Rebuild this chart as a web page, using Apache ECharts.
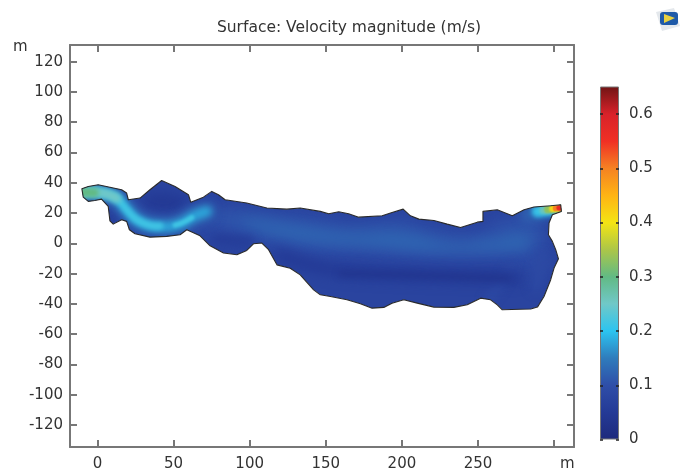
<!DOCTYPE html>
<html>
<head>
<meta charset="utf-8">
<style>html,body{margin:0;padding:0;background:#fff}#chart-container{width:681px;height:473px}</style>
<script src="https://cdn.jsdelivr.net/npm/echarts@6/dist/echarts.min.js"></script>
</head>
<body>
<div id="chart-container"></div>
<script>
// axis ticks
const xTicks = [0, 50, 100, 150, 200, 250, 300];
const xTickLabels = [0, 50, 100, 150, 200, 250];
const yTicks = [-120, -100, -80, -60, -40, -20, 0, 20, 40, 60, 80, 100, 120];
const scaleTicks = [0, 0.1, 0.2, 0.3, 0.4, 0.5, 0.6];

// colour scale
const scaleValues = [0, 0.05, 0.1, 0.15, 0.2, 0.25, 0.3, 0.35, 0.4, 0.45, 0.5, 0.55, 0.6, 0.651];
const scaleColors = ['#1e2a7c', '#243a96', '#2f4ea8', '#2f7cbc', '#2cc4f0', '#70c8c8', '#62ba84', '#acc648', '#f4e414', '#ffb414', '#f58222', '#f03024', '#d8222a', '#701414'];

// domain outline, metres
const outline = [[-10.2,36],[-6,37.6],[0.5,38.7],[8.2,37.1],[15.9,35.4],[19.2,33.2],[20.3,28.8],[28,29.9],[34.5,35.4],[42.2,41.5],[51,37.6],[59.8,32.1],[61.3,27.2],[69.6,30.5],[75.1,34.3],[79.5,32.1],[83.9,28.8],[98.1,26.6],[111.3,23.3],[124.4,22.6],[133.2,23.3],[146.4,21.1],[151.9,19.5],[158.5,20.9],[165,19.5],[171.6,17.3],[187,18.2],[193.5,20.4],[200.8,22.6],[205.6,18.2],[211.1,16],[221,15.1],[229.7,12.7],[238.5,10.5],[249.5,14],[253.2,14.5],[253.2,21.1],[262.6,22.2],[272.5,18.2],[280.2,22.2],[286.7,24],[297.7,24.8],[304.3,25.5],[304.7,21.1],[298.8,18.9],[296.6,13.4],[296.2,5.7],[298.8,1.3],[301,-4.2],[302.8,-10.2],[299.9,-16.3],[297.7,-24],[293.3,-35.1],[289,-42.1],[284.6,-43.4],[265.9,-43.9],[262.6,-40.6],[258.2,-37.3],[251.7,-36.2],[242.9,-40.6],[234.1,-42.3],[221,-42.1],[210,-39.5],[201.2,-37.3],[193.5,-39.5],[188.1,-42.3],[180.4,-42.8],[172.7,-39.9],[163.9,-37.3],[153,-35.1],[146.4,-34],[142,-30.7],[133.2,-20.8],[126.6,-16.4],[117.9,-14.2],[112.4,-4.2],[108,0.2],[102.5,-0.3],[98.1,-4.7],[91.6,-7.5],[82.8,-6.4],[74,-1.6],[67.4,5],[58.7,9],[54.3,5.7],[45.5,4.6],[34.5,4.1],[24.7,6.3],[21,9],[19.2,14.5],[15.9,15.6],[10.4,12.7],[8.2,14.9],[7.1,24.4],[2.7,29.2],[-1.7,28.3],[-6,27.7],[-9.3,30.5]];

// velocity regions, metres
const flowOuter = [[58,20],[85,24],[112,20],[146,17],[170,14],[200,17],[212,12],[238,8],[255,10],[262,18],[280,19],[293,20],[293,5],[296,-5],[297,-12],[290,-20],[270,-14],[250,-12],[220,-11],[180,-9],[140,-6],[110,-2],[100,0],[80,4],[60,10]];
const flowMiddle = [[75,18],[100,20],[130,16],[165,11],[200,12],[235,4],[255,6],[270,12],[288,12],[290,0],[280,-6],[255,-8],[220,-8],[180,-5],[140,-3],[115,3],[90,10]];
const flowInner = [[95,15],[130,11],[165,6],[200,6],[235,-1],[260,2],[280,5],[283,-2],[255,-4],[215,-4],[180,-1],[140,2],[110,8]];
const lowerBand = [[256,-38],[264,-28],[272,-14]];
const rightBand = [[292,-10],[288,-28]];
const lowStreak = [[120,-8],[150,-17],[180,-20],[210,-21],[240,-22],[262,-22],[275,-23]];
const lowCore = [[160,-20],[210,-21],[240,-22],[270,-23]];
const lowBump = [[35,28],[52,27]];
const lowLobe = [[78,3],[100,1]];
const lowLeft = [[10,21],[12,17]];
const jetPath = [[-9.3,33.8],[3.8,33.2],[12.6,29.9],[19.2,22.2],[25.8,15.6],[34.5,11.8],[47.7,11.2],[55.4,13.4],[63,17.8],[71.8,21.1]];
const jetMid = [[-9.3,33.8],[3.8,33.2],[12.6,29.9],[19.2,22.2],[25.8,15.6],[34.5,11.8],[41,11.4]];
const jetSecond = [[51,12],[55.4,13.4],[62,17]];
const jetInlet = [[-12,33.8],[3.8,33.2],[12.6,29.9]];
const jetInletCore = [[-12,33.8],[-2,33.5]];
const outletOuter = [[283,19.5],[304,23.5]];
const outletCyan = [[289,21],[306,23.5]];
const outletTeal = [[293,22],[306,23.5]];
const outletGreen = [[296,22.5],[306,23.5]];
const outletYellow = [[299,23],[306,23.5]];
const outletOrange = [[301,23.2],[306,23.5]];
const outletRed = [[303,23.4],[306,23.5]];

const colorAt = v => {
  let i = 1;
  while (i < scaleValues.length - 1 && scaleValues[i] < v) i++;
  const t = (v - scaleValues[i - 1]) / (scaleValues[i] - scaleValues[i - 1]);
  return echarts.color.lerp(t, [scaleColors[i - 1], scaleColors[i]]);
};

// draw order: v = velocity, w = stroke width in px (none means filled region), blur in px
const layers = [
  { v: 0.075, pts: outline },
  { v: 0.095, pts: flowOuter, blur: 16 },
  { v: 0.11, pts: flowMiddle, blur: 14 },
  { v: 0.125, pts: flowInner, blur: 12 },
  { v: 0.09, pts: lowerBand, w: 8, blur: 8 },
  { v: 0.09, pts: rightBand, w: 12, blur: 10 },
  { v: 0.05, pts: lowStreak, w: 12, blur: 12 },
  { v: 0.035, pts: lowCore, w: 5, blur: 6 },
  { v: 0.045, pts: lowBump, w: 16, blur: 14 },
  { v: 0.055, pts: lowLobe, w: 10, blur: 10 },
  { v: 0.05, pts: lowLeft, w: 8, blur: 8 },
  { v: 0.105, pts: jetPath, w: 22, blur: 10 },
  { v: 0.135, pts: jetPath, w: 14, blur: 8 },
  { v: 0.18, pts: jetPath, w: 9, blur: 6 },
  { v: 0.215, pts: jetMid, w: 7, blur: 4 },
  { v: 0.215, pts: jetSecond, w: 5, blur: 3 },
  { v: 0.25, pts: jetInlet, w: 10, blur: 5 },
  { v: 0.3, pts: jetInletCore, w: 9, blur: 4 },
  { v: 0.12, pts: outletOuter, w: 18, blur: 8 },
  { v: 0.17, pts: outletCyan, w: 12, blur: 5 },
  { v: 0.21, pts: outletCyan, w: 9, blur: 4 },
  { v: 0.26, pts: outletTeal, w: 8, blur: 3 },
  { v: 0.33, pts: outletGreen, w: 8, blur: 2 },
  { v: 0.41, pts: outletYellow, w: 7, blur: 2 },
  { v: 0.5, pts: outletOrange, w: 6, blur: 1 },
  { v: 0.57, pts: outletRed, w: 5, blur: 1 }
];

const AXIS_COLOR = '#777';
const TEXT_COLOR = '#333';
const FONT = '"DejaVu Sans"';
const SHADOW_SHIFT = 1500; // shapes are drawn off canvas, only their blurred shadow lands on the plot

function renderLayer(params, api) {
  const layer = layers[params.dataIndex];
  const clip = { type: 'polygon', shape: { points: outline.map(p => api.coord(p)) } };
  const color = colorAt(layer.v);
  const shift = layer.blur ? SHADOW_SHIFT : 0;
  const points = layer.pts.map(p => {
    const c = api.coord(p);
    return [c[0] - shift, c[1]];
  });
  const shadow = layer.blur ? { shadowBlur: layer.blur, shadowColor: color, shadowOffsetX: SHADOW_SHIFT } : {};
  if (layer.w) {
    return {
      type: 'polyline',
      shape: { points: points, smooth: 0.4 },
      clipPath: clip,
      style: Object.assign({ fill: null, stroke: color, lineWidth: layer.w, lineCap: 'round', lineJoin: 'round' }, shadow),
      silent: true
    };
  }
  return {
    type: 'polygon',
    shape: { points: points, smooth: layer.blur ? 0.4 : 0 },
    clipPath: clip,
    style: Object.assign({ fill: color }, shadow),
    silent: true
  };
}

function renderOutline(params, api) {
  return {
    type: 'polygon',
    shape: { points: outline.map(p => api.coord(p)) },
    style: { fill: null, stroke: '#2a2a2a', lineWidth: 1.1, lineJoin: 'round' },
    silent: true
  };
}

const boxAxis = (extra) => Object.assign({
  type: 'value',
  splitLine: { show: false },
  axisLine: { show: true, onZero: false, lineStyle: { color: AXIS_COLOR, width: 2 } },
  axisTick: { show: true, inside: true, length: 7, lineStyle: { color: AXIS_COLOR, width: 2 } },
  axisLabel: { show: false }
}, extra);

const tickLabel = { show: true, color: TEXT_COLOR, fontFamily: FONT, fontSize: 15, margin: 7 };

var option = {
  animation: false,
  backgroundColor: '#fff',
  title: {
    text: 'Surface: Velocity magnitude (m/s)',
    left: 344,
    top: 15,
    textAlign: 'center',
    textStyle: { color: TEXT_COLOR, fontFamily: FONT, fontSize: 15.5, fontWeight: 'normal' }
  },
  grid: [
    { left: 70, top: 45, right: 107, bottom: 26 },
    { left: 600, top: 86.5, width: 19, height: 353 }
  ],
  xAxis: [
    boxAxis({ gridIndex: 0, position: 'bottom', min: -18, max: 313,
      axisTick: { show: true, inside: true, length: 7, customValues: xTicks, lineStyle: { color: AXIS_COLOR, width: 2 } },
      axisLabel: Object.assign({}, tickLabel, { customValues: xTickLabels, margin: 10, formatter: '{value}' }) }),
    boxAxis({ gridIndex: 0, position: 'top', min: -18, max: 313,
      axisTick: { show: true, inside: true, length: 7, customValues: xTicks, lineStyle: { color: AXIS_COLOR, width: 2 } } }),
    { type: 'category', gridIndex: 1, data: ['scale'], show: false }
  ],
  yAxis: [
    boxAxis({ gridIndex: 0, position: 'left', min: -134.5, max: 131,
      axisTick: { show: true, inside: true, length: 7, customValues: yTicks, lineStyle: { color: AXIS_COLOR, width: 2 } },
      axisLabel: Object.assign({}, tickLabel, { customValues: yTicks, formatter: '{value}' }) }),
    boxAxis({ gridIndex: 0, position: 'right', min: -134.5, max: 131,
      axisTick: { show: true, inside: true, length: 7, customValues: yTicks, lineStyle: { color: AXIS_COLOR, width: 2 } } }),
    { type: 'value', gridIndex: 1, position: 'right', min: 0, max: 0.651, z: 10,
      splitLine: { show: false },
      axisLine: { show: false },
      axisTick: { show: true, inside: true, length: 3, customValues: scaleTicks, lineStyle: { color: '#222', width: 1.5 } },
      axisLabel: Object.assign({}, tickLabel, { customValues: scaleTicks, margin: 10, formatter: v => String(Math.round(v * 10) / 10) }) },
    { type: 'value', gridIndex: 1, position: 'left', min: 0, max: 0.651, z: 10,
      splitLine: { show: false },
      axisLine: { show: false },
      axisTick: { show: true, inside: true, length: 3, customValues: scaleTicks, lineStyle: { color: '#222', width: 1.5 } },
      axisLabel: { show: false } }
  ],
  series: [
    {
      type: 'custom',
      name: 'Velocity magnitude',
      xAxisIndex: 0,
      yAxisIndex: 0,
      renderItem: renderLayer,
      data: layers.map((l, i) => [i, l.v]),
      z: 2
    },
    {
      type: 'custom',
      name: 'Outline',
      xAxisIndex: 0,
      yAxisIndex: 0,
      renderItem: renderOutline,
      data: [[0, 0]],
      z: 3
    },
    {
      type: 'bar',
      name: 'Scale',
      xAxisIndex: 2,
      yAxisIndex: 2,
      barWidth: '100%',
      silent: true,
      data: [0.651],
      itemStyle: {
        borderColor: '#777',
        borderWidth: 1,
        color: new echarts.graphic.LinearGradient(0, 1, 0, 0, scaleValues.map((v, i) => ({ offset: v / 0.651, color: scaleColors[i] })))
      }
    }
  ],
  graphic: [
    { type: 'text', left: 13, top: 40, silent: true, style: { text: 'm', fill: TEXT_COLOR, font: '15px ' + FONT } },
    { type: 'text', left: 560, top: 457, silent: true, style: { text: 'm', fill: TEXT_COLOR, font: '15px ' + FONT } },
    // logo, top right
    { type: 'group', left: 656, top: 8, silent: true, children: [
      { type: 'polygon', shape: { points: [[0, 4], [18, 0], [24, 18], [6, 23]] }, style: { fill: '#e4e8ec' } },
      { type: 'rect', shape: { x: 4, y: 4, width: 18, height: 13, r: 3 }, style: { fill: '#1f5aa8' } },
      { type: 'polygon', shape: { points: [[8, 6], [19, 10], [8, 15]] }, style: { fill: '#e8d040' } }
    ] }
  ]
};

var dom = document.getElementById('chart-container');
var myChart = echarts.init(dom, null, { renderer: 'canvas' });
myChart.setOption(option);
</script>
</body>
</html>
